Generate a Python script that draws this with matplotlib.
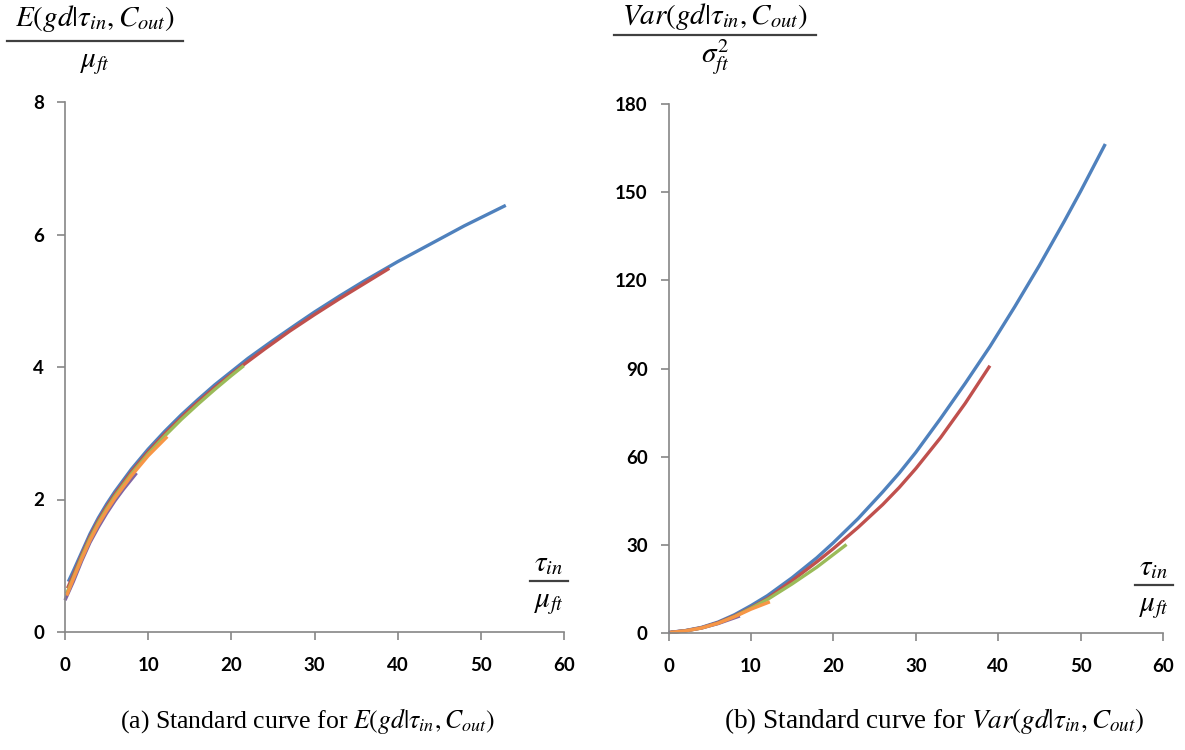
import matplotlib
matplotlib.use("Agg")
import matplotlib.pyplot as plt
from matplotlib.lines import Line2D

plt.rcParams['mathtext.fontset'] = 'stix'

# ---------------- data: (a) E(gd|tau_in, C_out)/mu_ft ----------------
e_blue_x = [0.4, 1, 2, 3, 4, 5, 6, 8, 10, 12, 14, 16, 18, 20, 22, 25, 28, 30, 33, 36, 40, 44, 48, 53]
e_blue_y = [0.76, 0.92, 1.2, 1.48, 1.72, 1.93, 2.12, 2.46, 2.76, 3.03, 3.28, 3.51, 3.73, 3.93, 4.13, 4.40, 4.66, 4.83, 5.07, 5.30, 5.59, 5.86, 6.13, 6.44]
e_red_x = [0.3, 1, 2, 3, 4, 5, 6, 8, 10, 12, 15, 18, 21, 24, 27, 30, 33, 36, 39]
e_red_y = [0.66, 0.86, 1.16, 1.44, 1.68, 1.89, 2.08, 2.42, 2.72, 2.99, 3.36, 3.69, 3.99, 4.27, 4.54, 4.79, 5.03, 5.26, 5.49]
e_green_x = [0.2, 1, 2, 3, 4, 5, 6, 8, 10, 12, 14, 16, 18, 20, 21.5]
e_green_y = [0.58, 0.82, 1.13, 1.41, 1.65, 1.86, 2.05, 2.39, 2.69, 2.96, 3.21, 3.44, 3.66, 3.87, 4.02]
e_purple_x = [0, 1, 2, 3, 4, 5, 6, 7, 8.6]
e_purple_y = [0.48, 0.76, 1.07, 1.35, 1.58, 1.79, 1.98, 2.15, 2.4]
e_orange_x = [0.2, 1, 2, 3, 4, 5, 6, 8, 10, 12.3]
e_orange_y = [0.55, 0.8, 1.1, 1.38, 1.62, 1.83, 2.02, 2.36, 2.66, 2.95]

# ---------------- data: (b) Var(gd|tau_in, C_out)/sigma_ft^2 ----------------
v_blue_x = [0.4, 2, 4, 6, 8, 10, 12, 15, 18, 20, 23, 26, 28, 30, 33, 36, 39, 42, 45, 48, 50, 53]
v_blue_y = [0.4, 0.9, 2.0, 3.8, 6.3, 9.4, 12.8, 18.9, 25.7, 30.8, 39, 48.1, 54.5, 61.5, 73, 85, 97.5, 111, 125.1, 140, 150.3, 166.4]
v_red_x = [0.3, 2, 4, 6, 8, 10, 12, 15, 18, 20, 23, 26, 28, 30, 33, 36, 39]
v_red_y = [0.35, 0.85, 1.9, 3.6, 5.9, 8.7, 11.8, 17.9, 24.3, 28.8, 36.0, 43.8, 49.6, 56, 66.5, 78.2, 91]
v_green_x = [0.2, 2, 4, 6, 8, 10, 12, 15, 18, 21.6]
v_green_y = [0.3, 0.8, 1.8, 3.4, 5.7, 8.5, 11.5, 16.8, 22.5, 30.2]
v_purple_x = [0, 2, 4, 6, 8.66]
v_purple_y = [0.3, 0.8, 1.8, 3.3, 5.9]
v_orange_x = [0.2, 2, 4, 6, 8, 10, 12.3]
v_orange_y = [0.3, 0.8, 1.8, 3.4, 5.6, 8.2, 10.7]

x_ticks = [0, 10, 20, 30, 40, 50, 60]
e_yticks = [0, 2, 4, 6, 8]
v_yticks = [0, 30, 60, 90, 120, 150, 180]

BLUE, RED, GREEN, PURPLE, ORANGE = '#4F81BD', '#C0504D', '#9BBB59', '#8064A2', '#F79646'
AXC = '#868686'

W, H = 1185, 750
fig = plt.figure(figsize=(W / 100, H / 100), dpi=100)


def px_box(x0, x1, ybot, ytop):
    return [x0 / W, 1 - ybot / H, (x1 - x0) / W, (ybot - ytop) / H]


axL = fig.add_axes(px_box(65, 564, 632, 102))
axR = fig.add_axes(px_box(668.5, 1163, 633.3, 104))

series_L = [(e_blue_x, e_blue_y, BLUE), (e_red_x, e_red_y, RED), (e_green_x, e_green_y, GREEN),
            (e_purple_x, e_purple_y, PURPLE), (e_orange_x, e_orange_y, ORANGE)]
series_R = [(v_blue_x, v_blue_y, BLUE), (v_red_x, v_red_y, RED), (v_green_x, v_green_y, GREEN),
            (v_purple_x, v_purple_y, PURPLE), (v_orange_x, v_orange_y, ORANGE)]

for ax, series, yt in [(axL, series_L, e_yticks), (axR, series_R, v_yticks)]:
    for xs, ys, c in series:
        ax.plot(xs, ys, color=c, lw=2.4, solid_capstyle='butt', solid_joinstyle='round', clip_on=False)
    ax.set_xlim(0, 60)
    ax.set_ylim(yt[0], yt[-1])
    ax.set_xticks(x_ticks)
    ax.set_yticks(yt)
    for s in ['top', 'right']:
        ax.spines[s].set_visible(False)
    for s in ['left', 'bottom']:
        ax.spines[s].set_color(AXC)
        ax.spines[s].set_linewidth(1.2)
    ax.tick_params(axis='both', direction='out', length=6, width=1.2, color=AXC,
                   labelsize=13.5, labelcolor='black')
    ax.tick_params(axis='x', pad=12)
    ax.tick_params(axis='y', pad=9)
    for lab in ax.get_xticklabels() + ax.get_yticklabels():
        lab.set_fontweight('bold')
        lab.set_fontfamily('Lato')


def frac(xc, y_num, y_line, y_den, num, den, half_w, fs=21):
    fig.text(xc / W, 1 - y_num / H, num, ha='center', va='center', fontsize=fs)
    fig.text(xc / W, 1 - y_den / H, den, ha='center', va='center', fontsize=fs)
    fig.add_artist(Line2D([(xc - half_w) / W, (xc + half_w) / W], [1 - y_line / H, 1 - y_line / H],
                          color='#404040', lw=1.6))


frac(95, 18, 41, 63, r'$E(gd|\tau_{in},C_{out})$', r'$\mu_{ft}$', 88)
frac(715, 16, 35, 57, r'$Var(gd|\tau_{in},C_{out})$', r'$\sigma_{ft}^{2}$', 101)
frac(549, 563, 581, 603, r'$\tau_{in}$', r'$\mu_{ft}$', 19)
frac(1154, 567, 585, 607, r'$\tau_{in}$', r'$\mu_{ft}$', 19)

fig.text(308 / W, 1 - 721 / H, r'(a) Standard curve for $E(gd|\tau_{in},C_{out})$',
         ha='center', va='center', fontsize=18.5, family='Liberation Serif')
fig.text(934 / W, 1 - 721 / H, r'(b) Standard curve for $Var(gd|\tau_{in},C_{out})$',
         ha='center', va='center', fontsize=19.5, family='Liberation Serif')

fig.savefig('out.png', dpi=100)
